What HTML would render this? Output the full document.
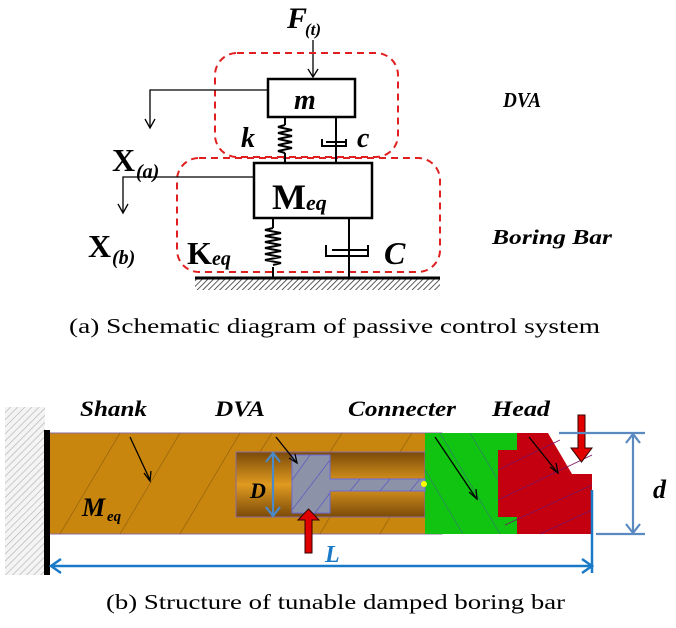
<!DOCTYPE html>
<html><head><meta charset="utf-8"><style>
html,body{margin:0;padding:0;background:#fff;}
svg{display:block;}
.bi{font-family:"Liberation Serif","Times New Roman",serif;font-weight:bold;font-style:italic;}
.b{font-family:"Liberation Serif","Times New Roman",serif;font-weight:bold;}
.r{font-family:"Liberation Serif","Times New Roman",serif;}
</style></head><body>
<svg width="676" height="628" viewBox="0 0 676 628" xmlns="http://www.w3.org/2000/svg">
<defs>
<pattern id="hat" width="4" height="4" patternUnits="userSpaceOnUse" patternTransform="rotate(45)">
<rect width="4" height="4" fill="#fff"/><line x1="0" y1="0" x2="0" y2="4" stroke="#333" stroke-width="1.6"/></pattern>
<pattern id="hat2" width="5" height="5" patternUnits="userSpaceOnUse" patternTransform="rotate(45)">
<rect width="5" height="5" fill="#f4f4f4"/><line x1="0" y1="0" x2="0" y2="5" stroke="#bbb" stroke-width="1.5"/></pattern>
<linearGradient id="cav" x1="0" y1="0" x2="0" y2="1">
<stop offset="0" stop-color="#7a4a08"/><stop offset="0.5" stop-color="#e09a20"/><stop offset="1" stop-color="#7a4a08"/></linearGradient>
</defs>

<!-- (a) -->
<text x="287" y="28" class="bi" font-size="30">F</text><text x="305" y="35" class="bi" font-size="17">(t)</text>
<line x1="313" y1="40" x2="313" y2="77" stroke="#000" stroke-width="1.3"/>
<path d="M308,69 L313,77 L318,69" fill="none" stroke="#000" stroke-width="1.3"/>
<rect x="215" y="53" width="183" height="104" rx="22" fill="none" stroke="#e02020" stroke-width="2" stroke-dasharray="7,5"/>
<rect x="177" y="158" width="263" height="114" rx="22" fill="none" stroke="#e02020" stroke-width="2" stroke-dasharray="7,5"/>
<rect x="268" y="79" width="87" height="38" fill="#fff" stroke="#000" stroke-width="2.5"/>
<text x="294" y="109" class="bi" font-size="28">m</text>
<line x1="285" y1="117" x2="285" y2="125" stroke="#000" stroke-width="2"/>
<path d="M285,125 l-7,2 l14,3 l-14,3 l14,3 l-14,3 l14,3 l-14,3 l14,3 l-14,3 l7,2" fill="none" stroke="#000" stroke-width="2"/>
<line x1="285" y1="153" x2="285" y2="163" stroke="#000" stroke-width="2"/>
<text x="241" y="147" class="bi" font-size="28">k</text>
<line x1="336" y1="117" x2="336" y2="145" stroke="#000" stroke-width="2"/>
<path d="M322,139 L322,146 L346,146 L346,139" fill="none" stroke="#000" stroke-width="2"/>
<line x1="326" y1="142" x2="346" y2="142" stroke="#000" stroke-width="2"/>
<line x1="336" y1="142" x2="336" y2="163" stroke="#000" stroke-width="2"/>
<text x="357" y="147" class="bi" font-size="28">c</text>
<rect x="254" y="163" width="118" height="55" fill="#fff" stroke="#000" stroke-width="2.5"/>
<text x="272" y="209" class="b" font-size="36">M</text><text x="306" y="210" class="bi" font-size="22">eq</text>
<path d="M268,90 H150 V127" fill="none" stroke="#000" stroke-width="1.3"/>
<path d="M145,119 L150,128 L155,119" fill="none" stroke="#000" stroke-width="1.3"/>
<path d="M254,177 H123 V212" fill="none" stroke="#000" stroke-width="1.3"/>
<path d="M118,204 L123,213 L128,204" fill="none" stroke="#000" stroke-width="1.3"/>
<text x="112" y="171" class="b" font-size="32">X</text><text x="136" y="178" class="bi" font-size="20">(a)</text>
<text x="88" y="257" class="b" font-size="32">X</text><text x="112" y="264" class="bi" font-size="20">(b)</text>
<line x1="273" y1="218" x2="273" y2="228" stroke="#000" stroke-width="2"/>
<path d="M273,228 l-8,2 l16,3 l-16,3 l16,3 l-16,3 l16,3 l-16,3 l16,3 l-16,3 l16,3 l-16,3 l16,3 l-8,2" fill="none" stroke="#000" stroke-width="2"/>
<line x1="273" y1="267" x2="273" y2="277" stroke="#000" stroke-width="2"/>
<text x="187" y="264" class="b" font-size="32">K</text><text x="212" y="265" class="bi" font-size="20">eq</text>
<line x1="349" y1="218" x2="349" y2="254" stroke="#000" stroke-width="2"/>
<path d="M326,245 L326,256 L368,256 L368,245" fill="none" stroke="#000" stroke-width="2"/>
<line x1="332" y1="250" x2="368" y2="250" stroke="#000" stroke-width="2"/>
<line x1="349" y1="250" x2="349" y2="277" stroke="#000" stroke-width="2"/>
<text x="384" y="264" class="bi" font-size="32">C</text>
<rect x="195" y="279" width="245" height="11" fill="url(#hat)"/>
<line x1="195" y1="278" x2="440" y2="278" stroke="#000" stroke-width="3"/>
<text x="503" y="107" class="bi" font-size="21" textLength="38" lengthAdjust="spacingAndGlyphs">DVA</text>
<text x="492" y="244" class="bi" font-size="21" textLength="120" lengthAdjust="spacingAndGlyphs">Boring Bar</text>
<text x="69" y="333" class="r" font-size="21" textLength="531" lengthAdjust="spacingAndGlyphs">(a)   Schematic  diagram of passive  control  system</text>

<!-- (b) -->
<text x="80" y="416" class="bi" font-size="22" textLength="67" lengthAdjust="spacingAndGlyphs">Shank</text>
<text x="215" y="416" class="bi" font-size="22" textLength="50" lengthAdjust="spacingAndGlyphs">DVA</text>
<text x="348" y="416" class="bi" font-size="22" textLength="108" lengthAdjust="spacingAndGlyphs">Connecter</text>
<text x="492" y="416" class="bi" font-size="22" textLength="58" lengthAdjust="spacingAndGlyphs">Head</text>
<rect x="5" y="407" width="40" height="168" fill="url(#hat2)"/>
<path d="M48,433 H442 V450 H425 V517 H442 V534 H48 Z" fill="#c8860e" stroke="#8a6aa0" stroke-width="1"/>
<g stroke="#8a5a10" stroke-width="0.8" opacity="0.7">
<line x1="60" y1="534" x2="120" y2="433"/><line x1="120" y1="534" x2="180" y2="433"/><line x1="180" y1="534" x2="240" y2="433"/><line x1="320" y1="534" x2="340" y2="500"/><line x1="380" y1="534" x2="400" y2="500"/><line x1="260" y1="452" x2="272" y2="433"/><line x1="330" y1="452" x2="342" y2="433"/><line x1="400" y1="452" x2="412" y2="433"/>
</g>
<rect x="236" y="452" width="189" height="65" fill="url(#cav)" stroke="#8a6aa0" stroke-width="1"/>
<path d="M425,433 H517 V450 H498 V517 H517 V534 H425 Z" fill="#11c411"/>
<g stroke="#2a8a5a" stroke-width="0.8"><line x1="440" y1="433" x2="500" y2="534"/><line x1="470" y1="433" x2="498" y2="480"/><line x1="425" y1="470" x2="463" y2="534"/></g>
<path d="M517,433 H548 L572,474 H592 V534 H517 V517 H498 V450 H517 Z" fill="#c40010"/>
<g stroke="#7a1060" stroke-width="0.8"><line x1="498" y1="470" x2="560" y2="440"/><line x1="498" y1="500" x2="592" y2="455"/><line x1="505" y1="525" x2="592" y2="485"/><line x1="540" y1="534" x2="592" y2="510"/></g>
<path d="M292,455 H330 V479 H425 V491 H330 V513 H292 Z" fill="#8c92a8" stroke="#6a6adc" stroke-width="1"/>
<g stroke="#5a5ac0" stroke-width="0.7"><line x1="292" y1="480" x2="310" y2="455"/><line x1="292" y1="510" x2="330" y2="460"/><line x1="315" y1="513" x2="330" y2="493"/><line x1="350" y1="491" x2="360" y2="479"/><line x1="380" y1="491" x2="390" y2="479"/><line x1="410" y1="491" x2="420" y2="479"/></g>
<circle cx="424" cy="484" r="3" fill="#ff0"/>
<rect x="44" y="430" width="6" height="145" fill="#000"/>
<g stroke="#000" stroke-width="1.3" fill="none">
<line x1="130" y1="437" x2="150" y2="480"/><path d="M144,473 L150,481 L151,471"/>
<line x1="276" y1="437" x2="296" y2="462"/><path d="M289,458 L297,463 L295,454"/>
<line x1="435" y1="437" x2="476" y2="498"/><path d="M469,492 L477,499 L476,489"/>
<line x1="529" y1="437" x2="557" y2="472"/><path d="M550,467 L558,473 L556,463"/>
</g>
<g stroke="#4a8ac8" stroke-width="2.2" fill="none">
<line x1="273" y1="453" x2="273" y2="516"/><path d="M266,462 L273,453 L280,462 M266,507 L273,516 L280,507"/>
</g>
<text x="250" y="498" class="bi" font-size="22">D</text>
<text x="82" y="516" class="bi" font-size="26">M</text><text x="107" y="521" class="bi" font-size="15">eq</text>
<path d="M305,553 V520 H298 L308.5,509 L319,520 H312 V553 Z" fill="#e00000" stroke="#300" stroke-width="1"/>
<path d="M578,415 V448 H571 L581.5,462 L592,448 H585 V415 Z" fill="#e00000" stroke="#300" stroke-width="1"/>
<g stroke="#1a7ac8" stroke-width="2.5" fill="none">
<line x1="51" y1="566" x2="592" y2="566"/><path d="M61,559 L51,566 L61,573 M582,559 L592,566 L582,573"/>
<line x1="592" y1="490" x2="592" y2="573"/>
</g>
<text x="325" y="562" class="bi" font-size="24" fill="#1a7ac8">L</text>
<g stroke="#5a8ac0" stroke-width="2.2" fill="none">
<line x1="559" y1="433" x2="645" y2="433"/><line x1="596" y1="534" x2="645" y2="534"/>
<line x1="633" y1="434" x2="633" y2="533"/><path d="M626,443 L633,434 L640,443 M626,524 L633,533 L640,524"/>
</g>
<text x="653" y="498" class="bi" font-size="26">d</text>
<text x="106" y="609" class="r" font-size="21" textLength="459" lengthAdjust="spacingAndGlyphs">(b) Structure of  tunable  damped  boring  bar</text>
</svg>
</body></html>
